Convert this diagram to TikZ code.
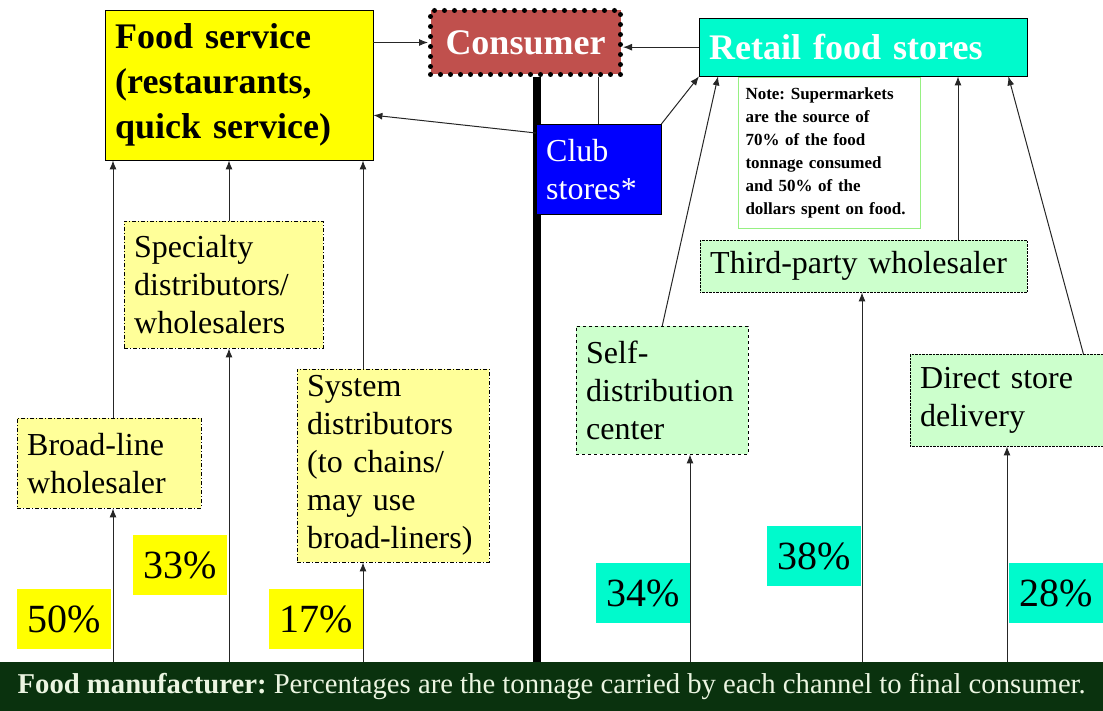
\documentclass[tikz,border=0pt]{standalone}
\usepackage{fontspec}
\setmainfont{Liberation Serif}
\usetikzlibrary{calc,arrows.meta}
\definecolor{svcyellow}{RGB}{255,255,0}
\definecolor{paleyellow}{RGB}{255,255,153}
\definecolor{palegreen}{RGB}{204,255,204}
\definecolor{retailcyan}{RGB}{0,250,204}
\definecolor{consumerred}{RGB}{192,80,77}
\definecolor{clubblue}{RGB}{0,0,255}
\definecolor{mfrgreen}{RGB}{10,50,14}
\definecolor{mfrtext}{RGB}{235,245,225}
\definecolor{notegreen}{RGB}{150,240,130}
\frenchspacing
\def\regfont{\fontsize{32}{38}\selectfont}
\def\headfont{\fontsize{36}{45}\selectfont\bfseries}
\def\notefont{\fontsize{17}{23}\selectfont\bfseries}
\def\pctfont{\fontsize{40}{44}\selectfont}
\def\mfrfont{\fontsize{28.7}{32}\selectfont}
\tikzset{chan box/.style={draw=black, anchor=north west, inner xsep=10pt, inner ysep=0pt,
           align=left, font=\regfont},
     wholesale box/.style={chan box, fill=paleyellow, dash pattern=on 4pt off 2pt on 1pt off 2pt},
     retail box/.style={chan box, fill=palegreen, densely dotted},
     head box/.style={chan box, font=\headfont, text=white},
     pct box/.style={anchor=north west, inner sep=0pt, minimum width=94pt,
           minimum height=60pt, font=\pctfont},
     flow/.style={draw=black!85, line width=1pt, -{Latex[length=9pt,width=7pt]}}
     }
\def\Channel#1#2#3#4#5#6#7{% name, style, x, y, width, height, text
\pgfmathsetmacro\chanwidth{#5-20}
\node (#1) [#2, minimum width=#5pt, minimum height=#6pt, text width=\chanwidth pt] at (#3,#4) {#7};
}
\def\Pct#1#2#3#4#5{% name, colour, x, y, text
\node (#1) [pct box, fill=#2] at (#3,#4) {#5};
}
\begin{document}
\begin{tikzpicture}[x=1pt, y=-1pt]
\useasboundingbox (0,0) rectangle (1103,711);
% columns of the channels
\coordinate (c1) at (113,0);
\coordinate (c2) at (229,0);
\coordinate (c3) at (363,0);
\coordinate (c4) at (690,0);
\coordinate (c5) at (862,0);
\coordinate (c6) at (958,0);
\coordinate (c7) at (1007,0);
\coordinate (spine) at (537,0);

\node (mfr) [anchor=north west, inner sep=0pt, minimum width=1103pt, minimum height=49pt,
  fill=mfrgreen, text=mfrtext, font=\mfrfont] at (0,662)
  {\textbf{Food manufacturer:} Percentages are the tonnage carried by each channel to final consumer.};

\Channel{fs}{head box, fill=svcyellow, text=black}{105}{10}{268}{150}{Food service\\(restaurants,\\quick service)}
\Channel{con}{head box, fill=consumerred, align=center, line width=5pt, dash pattern=on 0pt off 10pt, line cap=round}{428}{8}{190}{64}{Consumer}
\Channel{ret}{head box, fill=retailcyan}{699}{18}{328}{58}{Retail food stores}
\draw[line width=8pt] (con.south -| spine) -- (mfr.north -| spine);
\Channel{club}{chan box, fill=clubblue, text=white}{536}{124}{125}{90}{Club\\stores*}
\node (note) [draw=notegreen, fill=white, line width=1pt, anchor=north west, inner xsep=7pt,
  inner ysep=0pt, minimum width=182pt, minimum height=151pt, text width=168pt, align=left,
  font=\notefont] at (738,77)
  {Note: Supermarkets\\are the source of\\70\% of the food\\tonnage consumed\\and 50\% of the\\dollars spent on food.};

\Channel{sp}{wholesale box}{124}{221}{199}{127}{Specialty\\distributors/\\wholesalers}
\Channel{bl}{wholesale box}{17}{418}{184}{90}{Broad-line\\wholesaler}
\Channel{sys}{wholesale box}{297}{369}{192}{193}{System\\distributors\\(to chains/\\may use\\broad-liners)}
\Channel{sd}{retail box, dashed}{576}{326}{172}{128}{Self-\\distribution\\center}
\Channel{tp}{retail box}{700}{240}{327}{52}{Third-party wholesaler}
\Channel{dsd}{retail box}{910}{354}{193}{92}{Direct store\\delivery}

\Pct{p50}{svcyellow}{17}{589}{50\%}
\Pct{p33}{svcyellow}{133}{535}{33\%}
\Pct{p17}{svcyellow}{269}{589}{17\%}
\Pct{p34}{retailcyan}{596}{563}{34\%}
\Pct{p38}{retailcyan}{767}{526}{38\%}
\Pct{p28}{retailcyan}{1009}{563}{28\%}

\foreach \col/\src in {c1/bl, c2/sp, c3/sys, c4/sd, c5/tp, c7/dsd}
  \draw[flow] (mfr.north -| \col) -- (\src.south -| \col);
\foreach \col/\src in {c1/bl, c2/sp, c3/sys}
  \draw[flow] (\src.north -| \col) -- (fs.south -| \col);
\draw[flow] (sd.north) -- ([xshift=19pt]ret.south west);
\draw[flow] (tp.north -| c6) -- (ret.south -| c6);
\draw[flow] ([xshift=-20pt]dsd.north east) -- ([xshift=-19pt]ret.south east);

\draw[flow] (fs.east |- con.west) -- (con.west);
\draw[flow] (ret.west) -- (con.east |- ret.west);
\draw[flow] ([yshift=-9pt]club.north west) -- ([yshift=-30pt]fs.east);
\draw[flow] (club.north east) -- (ret.south west);
\draw[draw=black!85, line width=1pt] (con.south -| club.north) -- (club.north);
\end{tikzpicture}
\end{document}
